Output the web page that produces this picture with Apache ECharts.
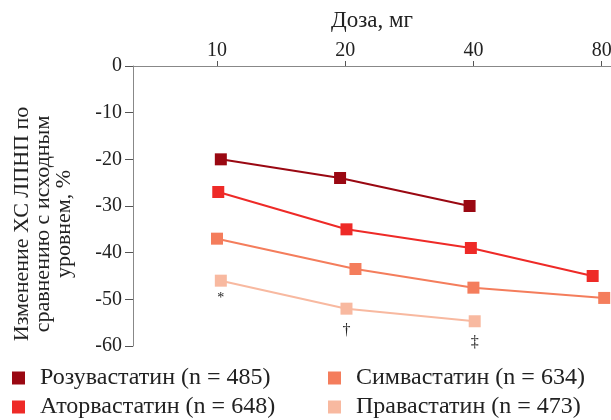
<!DOCTYPE html>
<html>
<head>
<meta charset="utf-8">
<script src="https://cdn.jsdelivr.net/npm/echarts@6/dist/echarts.min.js"></script>
<style>html,body{margin:0;padding:0;background:#fff;}#c{width:611px;height:420px;}</style>
</head>
<body>
<div id="c"></div>
<script>
const doseLabels = ['10', '20', '40', '80'];
const dosePositions = [1, 2, 3, 4];
const seriesNames = ['Розувастатин (n = 485)', 'Аторвастатин (n = 648)', 'Симвастатин (n = 634)', 'Правастатин (n = 473)'];
const colors = ['#9a0812', '#ee2a27', '#f47d5c', '#f8b9a0'];
// x positions (dose slot, slightly offset as in the original figure)
const rosuX = [1.03, 1.96, 2.97];
const rosuY = [-20, -24, -30];
const atorX = [1.01, 2.01, 2.98, 3.93];
const atorY = [-27, -35, -39, -45];
const simvaX = [1.0, 2.08, 3.0, 4.02];
const simvaY = [-37, -43.5, -47.5, -49.7];
const pravaX = [1.03, 2.01, 3.01];
const pravaY = [-46, -52, -54.7];
const pravaMarks = ['*', '†', '‡'];

const FONT = 'Liberation Serif';
function pairs(xs, ys) { return xs.map((x, i) => [x, ys[i]]); }
const allData = [pairs(rosuX, rosuY), pairs(atorX, atorY), pairs(simvaX, simvaY), pairs(pravaX, pravaY)];

const series = allData.map((d, i) => ({
  name: seriesNames[i],
  type: 'line',
  data: d.map((p, j) => {
    const o = { value: p };
    if (i === 3) {
      o.label = { show: true, formatter: pravaMarks[j], position: 'bottom', distance: j === 0 ? 5 : 8,
        fontFamily: FONT, fontSize: j === 0 ? 14 : 16, color: '#222' };
    }
    return o;
  }),
  symbol: 'rect',
  symbolSize: 12,
  lineStyle: { width: 2, color: colors[i] },
  itemStyle: { color: colors[i] },
  z: 10 - i,
  animation: false
}));

const legendPos = [[12, 366], [12, 395], [328, 366], [328, 395]];
const legends = seriesNames.map((n, i) => ({
  data: [n], orient: 'horizontal', left: legendPos[i][0], top: legendPos[i][1], icon: 'rect',
  padding: 0, itemWidth: 13, itemHeight: 13,
  textStyle: { fontFamily: FONT, fontSize: 24, color: '#222', lineHeight: 24, padding: [0, 0, 0, 10] }
}));

const chart = echarts.init(document.getElementById('c'));
chart.setOption({
  animation: false,
  color: colors,
  grid: { left: 133, top: 66, right: 0, bottom: 74, containLabel: false, outerBoundsMode: 'none' },
  xAxis: {
    type: 'value', position: 'top', min: 0.345, max: 4.073,
    name: 'Доза, мг', nameLocation: 'middle', nameGap: 34,
    nameTextStyle: { fontFamily: FONT, fontSize: 23, color: '#222' },
    splitLine: { show: false },
    axisLine: { show: true, lineStyle: { color: '#888', width: 1 } },
    axisTick: { show: true, length: 5, inside: false, customValues: dosePositions, lineStyle: { color: '#555' } },
    axisLabel: { customValues: dosePositions, formatter: v => doseLabels[Math.round(v) - 1],
      fontFamily: FONT, fontSize: 20, color: '#222', margin: 5 }
  },
  yAxis: {
    type: 'value', min: -60, max: 0, interval: 10,
    name: 'Изменение ХС ЛПНП по\nсравнению с исходным\nуровнем, %',
    nameLocation: 'middle', nameRotate: 90, nameGap: 58,
    nameTextStyle: { fontFamily: FONT, fontSize: 22, color: '#222', lineHeight: 21, align: 'center',
      padding: [0, 36, 0, 0] },
    splitLine: { show: false },
    axisLine: { show: true, lineStyle: { color: '#888', width: 1 } },
    axisTick: { show: true, length: 8, lineStyle: { color: '#555' } },
    axisLabel: { fontFamily: FONT, fontSize: 20, color: '#222', margin: 11,
      formatter: v => String(v) }
  },
  legend: legends,
  series: series
});
</script>
</body>
</html>
